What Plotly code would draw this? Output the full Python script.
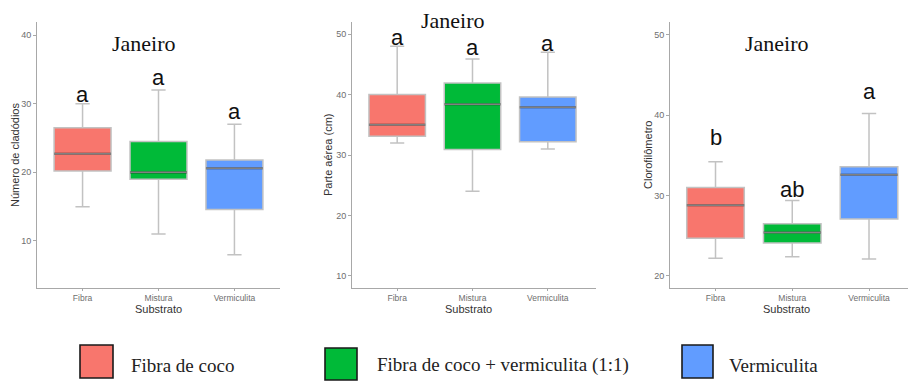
import plotly.graph_objects as go

W, H = 908, 383

categories = ["Fibra", "Mistura", "Vermiculita"]
fill_colors = ["#F8766D", "#00BA38", "#619CFF"]
legend_labels = ["Fibra de coco", "Fibra de coco + vermiculita (1:1)", "Vermiculita"]

# Número de cladódios
clad_low = [15, 11, 8]
clad_q1 = [20.2, 19.0, 14.6]
clad_med = [22.7, 20.0, 20.6]
clad_q3 = [26.5, 24.5, 21.8]
clad_high = [30, 32, 27]
clad_letters = ["a", "a", "a"]
clad_letter_y = [31.3, 33.8, 28.8]

# Parte aérea (cm)
parte_low = [32, 24, 31]
parte_q1 = [33.1, 30.9, 32.2]
parte_med = [35.0, 38.4, 37.9]
parte_q3 = [40.0, 41.9, 39.6]
parte_high = [48, 45.9, 47]
parte_letters = ["a", "a", "a"]
parte_letter_y = [49.5, 47.7, 48.5]

# Clorofilômetro
cloro_low = [22.2, 22.4, 22.1]
cloro_q1 = [24.7, 24.1, 27.1]
cloro_med = [28.8, 25.4, 32.6]
cloro_q3 = [31.0, 26.5, 33.6]
cloro_high = [34.2, 29.4, 40.2]
cloro_letters = ["b", "ab", "a"]
cloro_letter_y = [37.2, 30.8, 42.9]

panels = [
    dict(low=clad_low, q1=clad_q1, med=clad_med, q3=clad_q3, high=clad_high,
         letters=clad_letters, letter_y=clad_letter_y, ytitle="Número de cladódios",
         yticks=[10, 20, 30, 40], yrange=[3.15, 41.9], xrange=[-0.6, 2.6],
         px=(37, 280), title_xy=(144, 43), ytitle_x=15, xtitle_x=158),
    dict(low=parte_low, q1=parte_q1, med=parte_med, q3=parte_q3, high=parte_high,
         letters=parte_letters, letter_y=parte_letter_y, ytitle="Parte aérea (cm)",
         yticks=[10, 20, 30, 40, 50], yrange=[8.0, 52.0], xrange=[-0.6, 2.64],
         px=(352, 596), title_xy=(453, 20), ytitle_x=328, xtitle_x=469),
    dict(low=cloro_low, q1=cloro_q1, med=cloro_med, q3=cloro_q3, high=cloro_high,
         letters=cloro_letters, letter_y=cloro_letter_y, ytitle="Clorofilômetro",
         yticks=[20, 30, 40, 50], yrange=[18.5, 51.6], xrange=[-0.593, 2.508],
         px=(670, 908), title_xy=(777, 43), ytitle_x=648, xtitle_x=786),
]

BOX_W = 0.75
TOP_PX, BOTTOM_PX = 22, 288
AXIS_GRAY = "#A8A8A8"
YTICK_FONT = dict(family="Liberation Sans, Arial", size=9, color="#6E6E6E")
XTICK_FONT = dict(family="Liberation Sans, Arial", size=8.5, color="#6E6E6E")
LABEL_FONT = dict(family="Liberation Sans, Arial", size=11, color="#333333")

fig = go.Figure()
annotations = []
shapes = []

for p_idx, p in enumerate(panels):
    suffix = "" if p_idx == 0 else str(p_idx + 1)
    xa, ya = "x" + suffix, "y" + suffix
    for i, cat in enumerate(categories):
        fig.add_trace(go.Box(
            x=[i], q1=[p["q1"][i]], median=[p["med"][i]], q3=[p["q3"][i]],
            lowerfence=[p["low"][i]], upperfence=[p["high"][i]],
            width=BOX_W, whiskerwidth=0.25, boxpoints=False,
            fillcolor=fill_colors[i], line=dict(color="#C2C2C2", width=1.5),
            name=cat, showlegend=False, hoverinfo="skip",
            xaxis=xa, yaxis=ya,
        ))
        # darker median stroke drawn over the box
        fig.add_trace(go.Scatter(
            x=[i - BOX_W / 2, i + BOX_W / 2], y=[p["med"][i], p["med"][i]],
            mode="lines", line=dict(color="rgba(40,40,40,0.42)", width=2.6),
            showlegend=False, hoverinfo="skip", xaxis=xa, yaxis=ya,
        ))
        annotations.append(dict(
            x=i, y=p["letter_y"][i], xref=xa, yref=ya, text=p["letters"][i],
            showarrow=False, xanchor="center", yanchor="middle",
            font=dict(family="Liberation Sans, Arial", size=22, color="#111111"),
        ))

    x0, x1 = p["px"]
    dom_x = [x0 / W, min(x1 / W, 1.0)]
    dom_y = [1 - BOTTOM_PX / H, 1 - TOP_PX / H]
    fig.layout["xaxis" + suffix] = dict(
        domain=dom_x, anchor=ya, range=p["xrange"], tickvals=[0, 1, 2],
        ticktext=categories, showline=True, linecolor=AXIS_GRAY, linewidth=1,
        ticks="outside", ticklen=2, tickcolor=AXIS_GRAY, showgrid=False,
        zeroline=False, tickfont=XTICK_FONT,
    )
    fig.layout["yaxis" + suffix] = dict(
        domain=dom_y, anchor=xa, range=p["yrange"], tickvals=p["yticks"],
        showline=True, linecolor=AXIS_GRAY, linewidth=1,
        ticks="outside", ticklen=3, tickcolor=AXIS_GRAY, showgrid=False,
        zeroline=False, tickfont=YTICK_FONT,
    )

    tx, ty = p["title_xy"]
    annotations.append(dict(
        x=tx / W, y=1 - ty / H, xref="paper", yref="paper", text="Janeiro",
        showarrow=False, xanchor="center", yanchor="middle",
        font=dict(family="Liberation Serif, Times New Roman", size=22, color="#111111"),
    ))
    annotations.append(dict(
        x=p["ytitle_x"] / W, y=1 - 155 / H, xref="paper", yref="paper",
        text=p["ytitle"], textangle=-90, showarrow=False,
        xanchor="center", yanchor="middle", font=LABEL_FONT,
    ))
    annotations.append(dict(
        x=p["xtitle_x"] / W, y=1 - 309 / H, xref="paper", yref="paper",
        text="Substrato", showarrow=False, xanchor="center", yanchor="middle",
        font=LABEL_FONT,
    ))

# legend: colour swatches with serif labels underneath the panels
legend_swatch_px = [(80, 113, 345, 378), (325, 357, 348, 380), (682, 713, 345, 378)]
legend_text_x = [129, 375, 727]
for (sx0, sx1, sy0, sy1), col, lab, lx in zip(legend_swatch_px, fill_colors,
                                              legend_labels, legend_text_x):
    shapes.append(dict(
        type="rect", xref="paper", yref="paper",
        x0=sx0 / W, x1=sx1 / W, y0=1 - sy1 / H, y1=1 - sy0 / H,
        fillcolor=col, line=dict(color="#1A1A1A", width=1.6),
    ))
    annotations.append(dict(
        x=lx / W, y=1 - 365 / H, xref="paper", yref="paper", text=lab,
        showarrow=False, xanchor="left", yanchor="middle",
        font=dict(family="Liberation Serif, Times New Roman", size=19, color="#222222"),
    ))

fig.update_layout(
    width=W, height=H, margin=dict(l=0, r=0, t=0, b=0),
    paper_bgcolor="white", plot_bgcolor="white",
    boxmode="overlay", showlegend=False,
    annotations=annotations, shapes=shapes,
)

fig.write_html("out.html")
